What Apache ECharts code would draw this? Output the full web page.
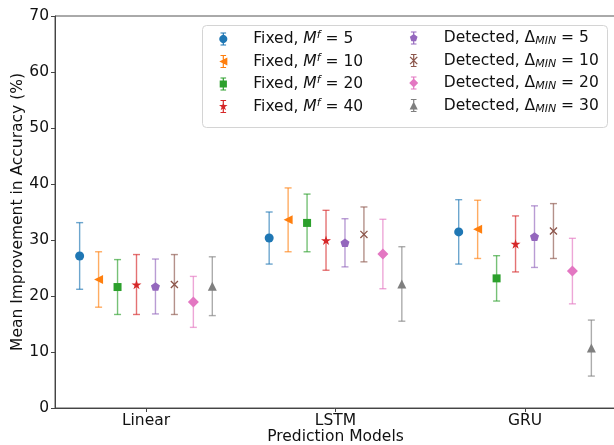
<!DOCTYPE html>
<html><head><meta charset="utf-8">
<script src="https://cdn.jsdelivr.net/npm/echarts@6/dist/echarts.min.js"></script>
<style>html,body{margin:0;padding:0;background:#fff}#c{width:614px;height:445px}</style>
</head><body><div id="c"></div>
<script>
// ---- data ----
const categories = ['Linear', 'LSTM', 'GRU'];
const seriesNames = ['Fixed, Mf = 5', 'Fixed, Mf = 10', 'Fixed, Mf = 20', 'Fixed, Mf = 40',
  'Detected, DMIN = 5', 'Detected, DMIN = 10', 'Detected, DMIN = 20', 'Detected, DMIN = 30'];
const legendValues = ['5', '10', '20', '40', '5', '10', '20', '30'];
const yTicks = [0, 10, 20, 30, 40, 50, 60, 70];

const meanF5 = [27.15, 30.35, 31.45];  const errF5 = [5.95, 4.65, 5.75];
const meanF10 = [22.95, 33.6, 31.9];   const errF10 = [4.95, 5.7, 5.2];
const meanF20 = [21.6, 33.05, 23.15];  const errF20 = [4.9, 5.15, 4.05];
const meanF40 = [22.05, 29.95, 29.3];  const errF40 = [5.35, 5.35, 5.0];
const meanD5 = [21.7, 29.5, 30.6];     const errD5 = [4.9, 4.3, 5.5];
const meanD10 = [22.05, 31.0, 31.6];   const errD10 = [5.35, 4.9, 4.9];
const meanD20 = [18.95, 27.5, 24.45];  const errD20 = [4.55, 6.2, 5.85];
const meanD30 = [21.75, 22.15, 10.7];  const errD30 = [5.25, 6.65, 5.0];

const means = [meanF5, meanF10, meanF20, meanF40, meanD5, meanD10, meanD20, meanD30];
const errs = [errF5, errF10, errF20, errF40, errD5, errD10, errD20, errD30];

// ---- styles ----
const colors = ['#1f77b4', '#ff7f0e', '#2ca02c', '#d62728', '#9467bd', '#8c564b', '#e377c2', '#7f7f7f'];
const shapes = ['circle', 'tleft', 'square', 'star', 'pentagon', 'x', 'diamond', 'tup'];
const markerSizes = [9, 9, 8, 10, 9, 8, 11, 9];
const FONT = 'DejaVu Sans';
const FS = 15.5;

function starPts() {
  const p = [];
  for (let k = 0; k < 10; k++) {
    const a = k * Math.PI / 5, r = (k % 2 === 0) ? 1 : 0.382;
    p.push([r * Math.sin(a), -r * Math.cos(a)]);
  }
  return p;
}
function pentPts() {
  const p = [];
  for (let k = 0; k < 5; k++) { const a = k * 2 * Math.PI / 5; p.push([Math.sin(a), -Math.cos(a)]); }
  return p;
}
function circPts() {
  const p = [];
  for (let k = 0; k < 24; k++) { const a = k * 2 * Math.PI / 24; p.push([Math.sin(a), -Math.cos(a)]); }
  return p;
}
const e = 0.13;
const shapePolys = {
  circle: [circPts()],
  tleft: [[[-1, 0], [1, -1], [1, 1]]],
  square: [[[-1, -1], [1, -1], [1, 1], [-1, 1]]],
  star: [starPts()],
  pentagon: [pentPts()],
  x: [[[-1 + e, -1 - e], [1 + e, 1 - e], [1 - e, 1 + e], [-1 - e, -1 + e]],
      [[1 + e, -1 + e], [-1 + e, 1 + e], [-1 - e, 1 - e], [1 - e, -1 - e]]],
  diamond: [[[0, -1], [1, 0], [0, 1], [-1, 0]]],
  tup: [[[0, -1], [1, 1], [-1, 1]]]
};
function shapePath(shape, cx, cy, s) {
  const f = v => (+v).toFixed(2);
  return shapePolys[shape].map(poly =>
    'M' + poly.map(([x, y]) => f(cx + x * s) + ' ' + f(cy + y * s)).join(' L') + ' Z').join(' ');
}
function legendIcon(i) {
  // 10 x 15 px box, units = 0.1 px
  const bar = 'M44 12 L56 12 L56 138 L44 138 Z M22 10 L78 10 L78 21 L22 21 Z M22 129 L78 129 L78 140 L22 140 Z';
  const anchors = 'M0 0 L0.5 0 L0 0.5 Z M100 150 L99.5 150 L100 149.5 Z';
  const m = shapePath(shapes[i], 50, 75, Math.min(markerSizes[i], 10) * 5 * 0.9);
  return 'path://' + anchors + ' ' + bar + ' ' + m;
}
function legendLabel(name) {
  const i = seriesNames.indexOf(name);
  if (i < 4) return '{sp| }{t|Fixed, }{i|M}{sup|f}{t| = ' + legendValues[i] + '}';
  return '{sp| }{t|Detected, \u0394}{sub|MIN}{t| = ' + legendValues[i] + '}';
}
const rich = {
  sp: { width: 20, fontSize: FS, lineHeight: 18 },
  t: { fontSize: FS, lineHeight: 18, fontFamily: FONT, color: '#111' },
  i: { fontSize: FS, lineHeight: 18, fontFamily: FONT, fontStyle: 'italic', color: '#111' },
  sup: { fontSize: 11, lineHeight: 10, fontFamily: FONT, fontStyle: 'italic', verticalAlign: 'top', color: '#111' },
  sub: { fontSize: 11, lineHeight: 10, fontFamily: FONT, fontStyle: 'italic', verticalAlign: 'bottom', color: '#111' }
};

const series = [];
for (let s = 0; s < 8; s++) {
  const off = (s - 3.5) * 0.1;
  const ebData = means[s].map((m, c) => [c + off, m - errs[s][c], m + errs[s][c]]);
  series.push({
    type: 'custom', name: 'eb' + s, z: 2 + s * 0.01,
    data: ebData,
    renderItem: function (params, api) {
      const x = api.value(0), lo = api.value(1), hi = api.value(2);
      const p1 = api.coord([x, lo]), p2 = api.coord([x, hi]);
      const cw = 3.5;
      const st = { stroke: colors[s], lineWidth: 1.4, opacity: 0.65 };
      return { type: 'group', children: [
        { type: 'line', shape: { x1: p1[0], y1: p1[1], x2: p2[0], y2: p2[1] }, style: st },
        { type: 'line', shape: { x1: p1[0] - cw, y1: p1[1], x2: p1[0] + cw, y2: p1[1] }, style: st },
        { type: 'line', shape: { x1: p2[0] - cw, y1: p2[1], x2: p2[0] + cw, y2: p2[1] }, style: st }
      ]};
    },
    encode: { x: 0, y: [1, 2] },
    silent: true
  });
  series.push({
    type: 'scatter', name: seriesNames[s], z: 3 + s * 0.01,
    data: means[s].map((m, c) => [c + off, m]),
    symbol: shapes[s] === 'circle' ? 'circle' : 'path://' + shapePath(shapes[s], 0, 0, 1),
    symbolKeepAspect: true,
    symbolSize: markerSizes[s],
    itemStyle: { color: colors[s], opacity: 1 },
    emphasis: { disabled: true }
  });
}

function legendOf(idx, left) {
  return {
    orient: 'vertical', left: left, top: 30, padding: 0,
    itemWidth: 10, itemHeight: 15, itemGap: 5.5,
    selectedMode: false,
    data: idx.map(i => ({ name: seriesNames[i], icon: legendIcon(i), itemStyle: { color: colors[i] } })),
    formatter: legendLabel,
    textStyle: { rich: rich, fontFamily: FONT, fontSize: FS }
  };
}

const chart = echarts.init(document.getElementById('c'), null, { renderer: 'canvas' });
chart.setOption({
  animation: false,
  backgroundColor: '#fff',
  textStyle: { fontFamily: FONT },
  grid: { left: 55, top: 16, width: 561, height: 392, show: true, borderColor: '#555', borderWidth: 1,
          containLabel: false, outerBoundsMode: 'none' },
  xAxis: {
    type: 'value', min: -0.48, max: 2.48,
    splitLine: { show: false },
    axisLine: { show: true, onZero: false, lineStyle: { color: '#444', width: 1 } },
    axisTick: { show: true, length: 4, lineStyle: { color: '#444' }, customValues: [0, 1, 2] },
    axisLabel: { customValues: [0, 1, 2], formatter: v => categories[Math.round(v)], fontSize: FS, color: '#111', margin: 5, fontFamily: FONT },
    name: 'Prediction Models', nameLocation: 'middle', nameGap: 21, nameMoveOverlap: false,
    nameTextStyle: { fontSize: FS, color: '#111', fontFamily: FONT }
  },
  yAxis: {
    type: 'value', min: yTicks[0], max: yTicks[yTicks.length - 1], interval: 10,
    splitLine: { show: false },
    axisLine: { show: true, onZero: false, lineStyle: { color: '#444', width: 1 } },
    axisTick: { show: true, length: 4, lineStyle: { color: '#444' } },
    axisLabel: { fontSize: FS, color: '#111', margin: 6, fontFamily: FONT },
    name: 'Mean Improvement in Accuracy (%)', nameLocation: 'middle', nameGap: 29, nameRotate: 90, nameMoveOverlap: false,
    nameTextStyle: { fontSize: FS, color: '#111', fontFamily: FONT }
  },
  graphic: [{
    type: 'rect', z: 3, left: 202, top: 25,
    shape: { width: 405, height: 102, r: 4 },
    style: { fill: 'rgba(255,255,255,0.8)', stroke: '#d4d4d4', lineWidth: 1 }
  }],
  legend: [legendOf([0, 1, 2, 3], 218.3), legendOf([4, 5, 6, 7], 408.7)],
  series: series
});
</script></body></html>
